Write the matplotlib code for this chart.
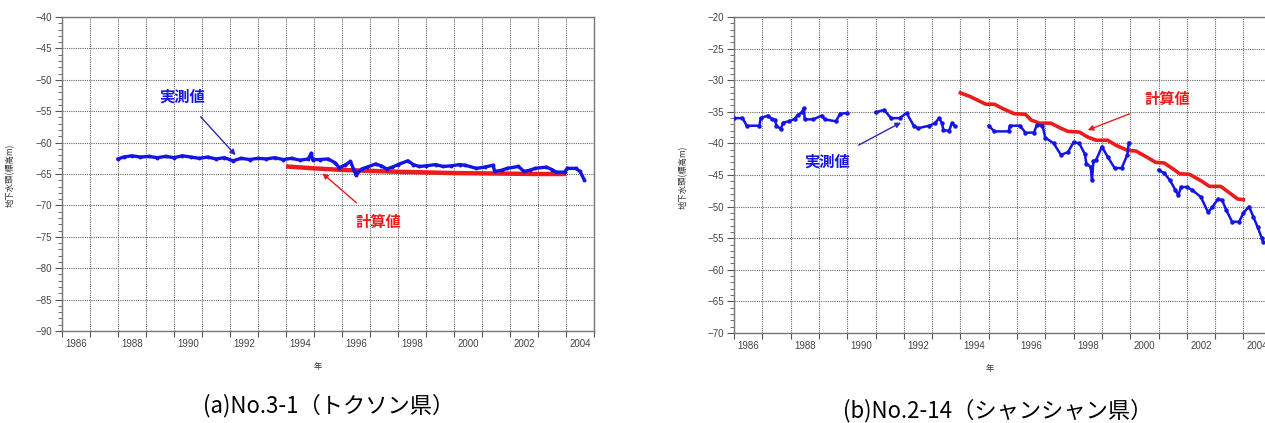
import matplotlib.pyplot as plt
import numpy as np
from matplotlib.ticker import MultipleLocator, FixedLocator, NullFormatter

plt.rcParams['font.family'] = ['Noto Sans CJK JP', 'DejaVu Sans']

# (a) No.3-1 measured / calculated groundwater head
a_obs_year = [1988.0, 1988.2, 1988.5, 1988.8, 1989.1, 1989.4, 1989.7, 1990.0, 1990.3, 1990.6,
              1990.9, 1991.2, 1991.5, 1991.8, 1992.1, 1992.4, 1992.7, 1993.0, 1993.3, 1993.6,
              1993.9, 1994.2, 1994.5, 1994.8, 1994.9, 1994.95, 1995.2, 1995.5, 1995.75, 1995.9,
              1996.1, 1996.3, 1996.45, 1996.5, 1996.7, 1996.9, 1997.2, 1997.4, 1997.6, 1997.8,
              1998.0, 1998.35, 1998.55, 1998.75, 1999.0, 1999.35, 1999.6, 1999.9, 2000.2, 2000.4,
              2000.8, 2001.1, 2001.4, 2001.45, 2001.7, 2001.9, 2002.3, 2002.5, 2002.7, 2002.9,
              2003.3, 2003.5, 2003.65, 2003.95, 2004.05, 2004.35, 2004.5, 2004.65]
a_obs_head = [-62.6, -62.3, -62.1, -62.3, -62.2, -62.4, -62.2, -62.4, -62.1, -62.3,
              -62.5, -62.3, -62.6, -62.4, -62.9, -62.5, -62.7, -62.5, -62.6, -62.4,
              -62.7, -62.5, -62.8, -62.6, -61.7, -62.7, -62.7, -62.6, -63.2, -64.0,
              -63.6, -63.0, -64.6, -65.2, -64.2, -63.9, -63.4, -63.7, -64.2, -63.9,
              -63.5, -62.9, -63.5, -63.8, -63.7, -63.5, -63.8, -63.7, -63.5, -63.6,
              -64.1, -63.9, -63.6, -64.6, -64.4, -64.1, -63.8, -64.6, -64.4, -64.1,
              -63.9, -64.3, -64.7, -64.7, -64.1, -64.1, -64.6, -65.9]
a_calc_year = [1994.0, 1995.0, 1996.0, 1997.0, 1998.0, 1999.0, 2000.0, 2001.0, 2002.0, 2003.0, 2004.0]
a_calc_head = [-63.8, -64.1, -64.35, -64.5, -64.65, -64.75, -64.85, -64.9, -64.95, -65.0, -65.0]

# (b) No.2-14 (NaN = gap in record)
b_obs_year = [1986.0, 1986.3, 1986.45, 1986.9, 1986.94, 1987.2, 1987.35, 1987.45, 1987.5, 1987.65,
              1987.74, 1987.95, 1988.15, 1988.25, 1988.4, 1988.47, 1988.5, 1988.8, 1989.1, 1989.2,
              1989.6, 1989.75, 1990.0, 1990.5,
              1991.0, 1991.3, 1991.55, 1991.85, 1992.1, 1992.35, 1992.5, 1992.9, 1993.1, 1993.25,
              1993.35, 1993.4, 1993.6, 1993.7, 1993.8, 1994.4,
              1995.0, 1995.2, 1995.7, 1995.75, 1996.1, 1996.3, 1996.6, 1996.7, 1996.9, 1997.0,
              1997.3, 1997.55, 1997.8, 1998.0, 1998.2, 1998.4, 1998.45, 1998.6, 1998.65, 1998.7,
              1998.8, 1999.0, 1999.2, 1999.45, 1999.7, 1999.9, 1999.95, 2000.5,
              2001.0, 2001.2, 2001.4, 2001.6, 2001.7, 2001.8, 2002.0, 2002.2, 2002.5, 2002.75,
              2002.9, 2003.1, 2003.25, 2003.4, 2003.6, 2003.85, 2004.0, 2004.2, 2004.35, 2004.5,
              2004.65, 2004.7]
b_obs_head = [-36.0, -36.0, -37.2, -37.2, -36.0, -35.6, -36.2, -36.3, -37.2, -37.7,
              -36.7, -36.5, -36.1, -35.5, -35.1, -34.4, -36.2, -36.2, -35.6, -36.2,
              -36.5, -35.3, -35.2, np.nan,
              -35.1, -34.7, -36.0, -36.0, -35.2, -37.2, -37.6, -37.2, -36.8, -36.0,
              -36.8, -37.9, -38.0, -36.8, -37.2, np.nan,
              -37.2, -38.1, -38.1, -37.2, -37.2, -38.3, -38.3, -37.1, -37.2, -39.1,
              -40.0, -41.8, -41.4, -39.8, -40.0, -41.7, -43.2, -43.7, -45.8, -42.8,
              -42.6, -40.5, -42.1, -43.9, -43.9, -41.8, -39.9, np.nan,
              -44.2, -44.7, -45.8, -47.4, -48.2, -46.9, -46.9, -47.4, -48.5, -50.9,
              -50.1, -48.8, -49.0, -50.6, -52.4, -52.4, -51.0, -50.0, -51.6, -53.2,
              -55.0, -55.6]
b_calc_year = [1994.0, 1994.35, 1994.9, 1995.2, 1995.5, 1995.9, 1996.3, 1996.5, 1996.8, 1997.2,
               1997.5, 1997.8, 1998.2, 1998.5, 1998.8, 1999.2, 1999.5, 1999.9, 2000.2, 2000.6,
               2000.9, 2001.2, 2001.5, 2001.75, 2002.1, 2002.5, 2002.8, 2003.2, 2003.5, 2003.8, 2004.0]
b_calc_head = [-32.0, -32.6, -33.8, -33.8, -34.5, -35.3, -35.4, -36.3, -36.8, -36.8,
               -37.5, -38.1, -38.2, -39.0, -39.5, -39.5, -40.3, -41.1, -41.2, -42.2,
               -43.0, -43.1, -44.0, -44.8, -44.9, -45.9, -46.8, -46.8, -47.8, -48.8, -48.9]

year_labels = list(range(1986, 2005, 2))

BLUE = '#1414e6'
RED = '#ec1c1c'
GRAY = '#555555'

fig = plt.figure(figsize=(12.65, 4.23), dpi=100)
fig.patch.set_facecolor('white')


def style_axes(ax, ylo, yhi):
    ax.set_ylim(ylo, yhi)
    ax.set_xlim(1986, 2005)
    ax.yaxis.set_major_locator(MultipleLocator(5))
    ax.yaxis.set_minor_locator(MultipleLocator(1))
    ax.xaxis.set_major_locator(MultipleLocator(1))
    ax.xaxis.set_major_formatter(NullFormatter())
    # year labels sit in the middle of each year
    ax.xaxis.set_minor_locator(FixedLocator([y + 0.5 for y in year_labels]))
    ax.set_xticklabels([str(y) for y in year_labels], minor=True)
    ax.tick_params(axis='x', which='major', direction='out', length=4, width=0.8, color=GRAY)
    ax.tick_params(axis='x', which='minor', length=0, pad=6)
    ax.tick_params(axis='y', which='major', direction='out', length=5, width=0.8, color=GRAY, pad=2)
    ax.tick_params(axis='y', which='minor', direction='out', length=3, width=0.6, color=GRAY)
    for lab in ax.get_xticklabels(minor=True) + ax.get_yticklabels():
        lab.set_fontfamily('Liberation Sans')
        lab.set_fontsize(7)
        lab.set_color('#444444')
    ax.grid(True, which='major', color='#666666', linestyle=(0, (1, 1)), linewidth=0.8)
    for s in ax.spines.values():
        s.set_color('#777777')
        s.set_linewidth(1.0)
    ax.set_axisbelow(True)


# ---- (a) ----
ax1 = fig.add_axes([62 / 1265, 92 / 423, 532 / 1265, 314 / 423])
style_axes(ax1, -90, -40)
ax1.plot(a_calc_year, a_calc_head, color=RED, lw=3.2, solid_capstyle='butt', zorder=3)
ax1.plot(a_obs_year, a_obs_head, color=BLUE, lw=2.4, marker='o', ms=1.8, zorder=4)
ax1.annotate('実測値', xy=(1992.2, -62.0), xytext=(1990.3, -52.7), color=BLUE,
             fontsize=11, fontweight='bold', ha='center', va='center',
             arrowprops=dict(arrowstyle='-|>', color='#2a2ab0', lw=1.0, shrinkA=9, shrinkB=0,
                             mutation_scale=8))
ax1.annotate('計算値', xy=(1995.3, -64.9), xytext=(1997.3, -72.6), color=RED,
             fontsize=11, fontweight='bold', ha='center', va='center',
             arrowprops=dict(arrowstyle='-|>', color=RED, lw=1.0, shrinkA=9, shrinkB=0,
                             mutation_scale=8))

# ---- (b) ----
ax2 = fig.add_axes([734 / 1265, 90 / 423, 537.7 / 1265, 316 / 423])
style_axes(ax2, -70, -20)
ax2.plot(b_calc_year, b_calc_head, color=RED, lw=2.6, zorder=3)
ax2.plot(b_obs_year, b_obs_head, color=BLUE, lw=1.8, marker='o', ms=2.2, zorder=4)
ax2.annotate('実測値', xy=(1991.9, -36.7), xytext=(1989.3, -42.9), color=BLUE,
             fontsize=11, fontweight='bold', ha='center', va='center',
             arrowprops=dict(arrowstyle='-|>', color='#2a2ab0', lw=1.0, shrinkA=9, shrinkB=0,
                             mutation_scale=8))
ax2.annotate('計算値', xy=(1998.5, -37.9), xytext=(2001.3, -33.0), color=RED,
             fontsize=11, fontweight='bold', ha='center', va='center',
             arrowprops=dict(arrowstyle='-|>', color=RED, lw=1.0, shrinkA=9, shrinkB=0,
                             mutation_scale=8))

# axis titles
fig.text(10 / 1265, 1 - 175 / 423, '地下水頭(標高m)', rotation=90, ha='center', va='center',
         fontsize=6, color='#333333')
fig.text(683 / 1265, 1 - 177 / 423, '地下水頭(標高m)', rotation=90, ha='center', va='center',
         fontsize=6, color='#333333')
fig.text(318 / 1265, 1 - 366 / 423, '年', ha='center', va='center', fontsize=6, color='#333333')
fig.text(990 / 1265, 1 - 368 / 423, '年', ha='center', va='center', fontsize=6, color='#333333')

# captions
fig.text(329 / 1265, 1 - 406 / 423, '(a)No.3-1（トクソン県）', ha='center', va='center',
         fontsize=16, color='black')
fig.text(998 / 1265, 1 - 411 / 423, '(b)No.2-14（シャンシャン県）', ha='center', va='center',
         fontsize=16, color='black')

fig.savefig('out.png', dpi=100)
